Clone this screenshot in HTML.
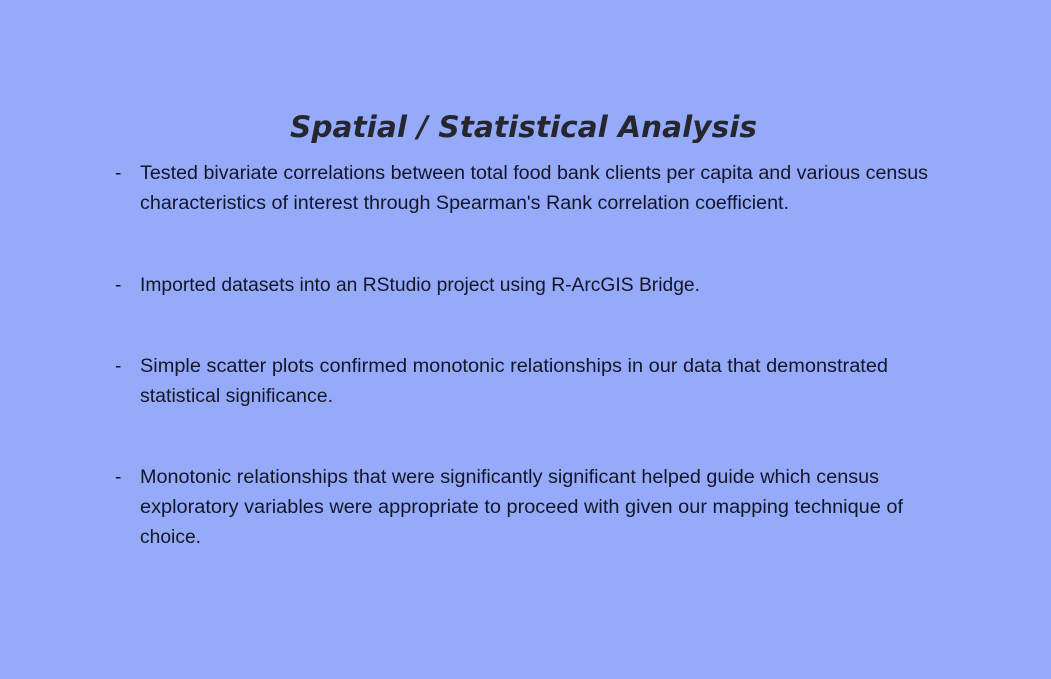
<!DOCTYPE html>
<html><head><meta charset="utf-8"><style>
html,body{margin:0;padding:0;background:#95abf9;}
svg{display:block}
.b{font-family:"Liberation Sans",sans-serif;font-size:19px;fill:#15152a}
</style></head><body>
<svg width="1051" height="679" viewBox="0 0 1051 679">
<rect width="1051" height="679" fill="#95abf9"/>
<text x="290" y="137" textLength="467" lengthAdjust="spacingAndGlyphs" font-family="DejaVu Sans, Verdana, sans-serif" font-weight="bold" font-style="italic" font-size="29" fill="#25262e">Spatial / Statistical Analysis</text>
<g>
<text class="b" x="115" y="179">-</text>
<text class="b" x="140" y="179" textLength="788" lengthAdjust="spacingAndGlyphs">Tested bivariate correlations between total food bank clients per capita and various census</text>
<text class="b" x="140" y="209" textLength="649" lengthAdjust="spacingAndGlyphs">characteristics of interest through Spearman's Rank correlation coefficient.</text>
</g>
<g>
<text class="b" x="115" y="291">-</text>
<text class="b" x="140" y="291" textLength="560" lengthAdjust="spacingAndGlyphs">Imported datasets into an RStudio project using R-ArcGIS Bridge.</text>
</g>
<g>
<text class="b" x="115" y="372">-</text>
<text class="b" x="140" y="372" textLength="748" lengthAdjust="spacingAndGlyphs">Simple scatter plots confirmed monotonic relationships in our data that demonstrated</text>
<text class="b" x="140" y="402" textLength="193" lengthAdjust="spacingAndGlyphs">statistical significance.</text>
</g>
<g>
<text class="b" x="115" y="483">-</text>
<text class="b" x="140" y="483" textLength="739" lengthAdjust="spacingAndGlyphs">Monotonic relationships that were significantly significant helped guide which census</text>
<text class="b" x="140" y="513" textLength="763" lengthAdjust="spacingAndGlyphs">exploratory variables were appropriate to proceed with given our mapping technique of</text>
<text class="b" x="140" y="543" textLength="61" lengthAdjust="spacingAndGlyphs">choice.</text>
</g>
</svg>
</body></html>
